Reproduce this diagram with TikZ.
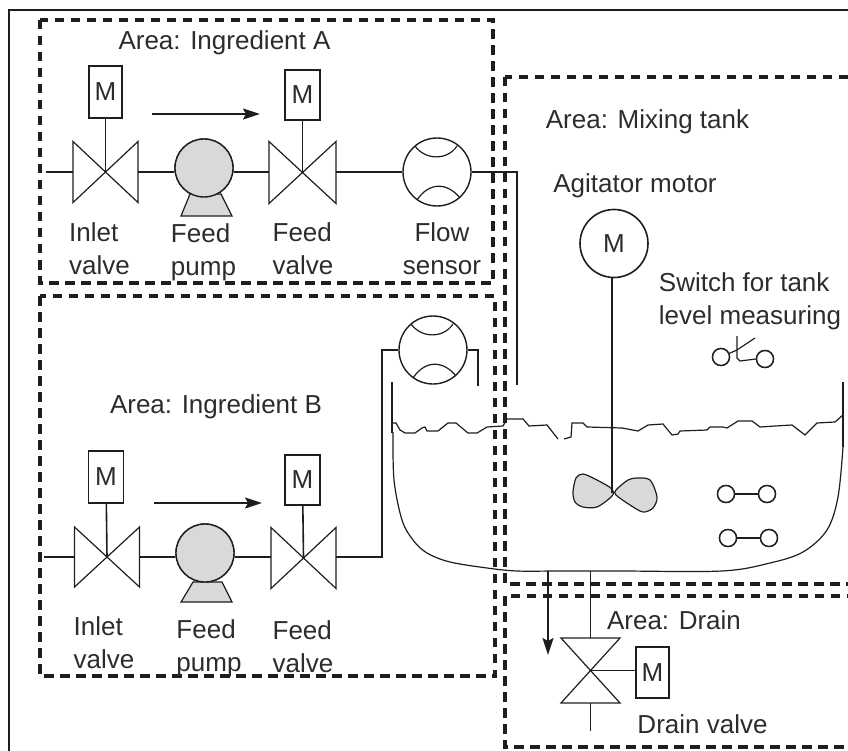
\documentclass[tikz,border=0pt]{standalone}
\usepackage{fontspec}
\setmainfont{Liberation Sans}
\usetikzlibrary{arrows.meta,positioning}
\definecolor{ink}{HTML}{1E1E1E}
\definecolor{txt}{HTML}{2C2C2C}
\definecolor{soft}{HTML}{D9D9DB}
\tikzset{
  area/.style={draw=ink,line width=3.6pt,dash pattern=on 9.5pt off 6.5pt},
  lbl/.style={align=center,inner sep=0pt,text=txt,font=\fontsize{26}{33}\selectfont},
  lbll/.style={lbl,align=left},
  pipe/.style={draw=ink,line width=1.6pt},
  thin line/.style={draw=ink,line width=1.2pt},
  ar/.style={-{Stealth[length=17pt,width=11pt,inset=3pt]},pipe},
  mbox/.style={rectangle,draw=ink,line width=1.6pt,fill=white,inner sep=0pt,text=txt,font=\fontsize{26}{30}\selectfont},
  vlv/.style={rectangle,inner sep=0pt,outer sep=0pt},
  pumpc/.style={circle,draw=ink,line width=1.4pt,fill=soft,minimum size=58pt,inner sep=0pt},
  sensc/.style={circle,draw=ink,line width=1.4pt,fill=white,minimum size=68pt,inner sep=0pt},
  contact/.style={circle,draw=ink,line width=1.4pt,fill=white,minimum size=17pt,inner sep=0pt},
}
\newcommand{\valveh}[1]{%
  \draw[thin line] (#1.north west) -- (#1.center) -- (#1.south west) -- cycle;
  \draw[thin line] (#1.north east) -- (#1.center) -- (#1.south east) -- cycle;}
\newcommand{\valvev}[1]{%
  \draw[thin line] (#1.north west) -- (#1.center) -- (#1.north east) -- cycle;
  \draw[thin line] (#1.south west) -- (#1.center) -- (#1.south east) -- cycle;}
\newcommand{\sensarcs}[1]{%
  \draw[thin line] ([shift={(-22,-26)}]#1.center) .. controls ([shift={(-12,-12)}]#1.center) and ([shift={(10,-11)}]#1.center) .. ([shift={(20,-26)}]#1.center);
  \draw[thin line] ([shift={(-20,28)}]#1.center) .. controls ([shift={(-8,10)}]#1.center) and ([shift={(10,10)}]#1.center) .. ([shift={(23,26)}]#1.center);}
\begin{document}
\begin{tikzpicture}[x=1pt,y=-1pt]
  \useasboundingbox (0,0) rectangle (848,751);
  \draw[draw=ink,line width=2pt] (848,10) -- (9,10) -- (9,751);
  \draw[area] (40,20) rectangle (493,283);
  \draw[area] (40,296) rectangle (495,676);
  \draw[area] (505,77) rectangle (849.5,584);
  \draw[area] (505,596) rectangle (849.5,747);

  % ingredient A
  \node[lbl] (tA) at (224.5,43) {Area: Ingredient A};
  \node[vlv,minimum width=65pt,minimum height=61pt] (via) at (105.5,172) {};
  \node[vlv,minimum width=67pt,minimum height=62pt] (vfa) at (302.5,172.5) {};
  \node[mbox,minimum width=33pt,minimum height=52pt] (mia) at (105.5,92) {M};
  \node[mbox,minimum width=35pt,minimum height=50pt] (mfa) at (302.5,95) {M};
  \node[pumpc] (pa) at (204,168) {};
  \node[sensc] (fsa) at (437,172) {};
  \coordinate (ina) at (46,172);
  \coordinate (pae) at (517,385);
  \coordinate (ara) at (152,114);
  \coordinate (arb) at (260,114);
  \draw[thin line,fill=soft] (190,194) -- (181,216) -- (232,216) -- (221,194) -- cycle;
  \node[pumpc] at (pa) {};
  \valveh{via} \valveh{vfa} \sensarcs{fsa}
  \draw[pipe] (ina) -- (via.west);
  \draw[pipe] (via.east) -- (pa.west |- via.east);
  \draw[pipe] (pa.east |- via.east) -- (via.east -| vfa.west);
  \draw[pipe] (vfa.east |- via.east) -- (fsa.west);
  \draw[pipe] (fsa.east) -| (pae);
  \draw[pipe] (mia) -- (via.center);
  \draw[pipe] (mfa) -- (vfa.center);
  \draw[ar] (ara) -- (arb);
  \node[lbll] (lia) at (99.5,249) {Inlet\\valve};
  \node[lbll] (lpa) at (203.5,252) {Feed\\pump};
  \node[lbll] (lfa) at (303,249) {Feed\\valve};
  \node[lbl] (lsa) at (442,249) {Flow\\sensor};

  % ingredient B
  \node[lbl] (tB) at (216,407) {Area: Ingredient B};
  \node[vlv,minimum width=65pt,minimum height=60pt] (vib) at (107,557) {};
  \node[vlv,minimum width=65pt,minimum height=61pt] (vfb) at (303.5,558) {};
  \node[mbox,minimum width=35pt,minimum height=52pt] (mib) at (106,477) {M};
  \node[mbox,minimum width=35pt,minimum height=50pt] (mfb) at (302.5,480) {M};
  \node[pumpc] (pb) at (205,553) {};
  \node[sensc] (fsb) at (433,350) {};
  \coordinate (inb) at (44,557);
  \coordinate (pbe) at (478,386);
  \coordinate (pbc) at (382,557);
  \coordinate (brA) at (154,503);
  \coordinate (brB) at (262,503);
  \draw[thin line,fill=soft] (193,582) -- (181,602) -- (232,602) -- (222,582) -- cycle;
  \node[pumpc] at (pb) {};
  \valveh{vib} \valveh{vfb} \sensarcs{fsb}
  \draw[pipe] (inb) -- (vib.west);
  \draw[pipe] (vib.east) -- (pb.west |- vib.east);
  \draw[pipe] (pb.east |- vib.east) -- (vib.east -| vfb.west);
  \draw[pipe] (vfb.east |- vib.east) -- (pbc) |- (fsb.west);
  \draw[pipe] (fsb.east) -| (pbe);
  \draw[pipe] (mib) -- (vib.center);
  \draw[pipe] (mfb) -- (vfb.center);
  \draw[ar] (brA) -- (brB);
  \node[lbll] (lib) at (104,643) {Inlet\\valve};
  \node[lbll] (lpb) at (209,648) {Feed\\pump};
  \node[lbll] (lfb) at (303,647) {Feed\\valve};

  % mixing tank
  \node[lbl] (tM) at (647.5,122) {Area: Mixing tank};
  \node[lbl] (lag) at (635,186) {Agitator motor};
  \node[lbll] (lsw) at (750,301) {Switch for tank\\level measuring};
  \node[mbox,circle,minimum size=68pt] (mag) at (614,243.5) {M};
  \coordinate (imp) at (612,493);
  \draw[thin line] (392,382) -- (392,433);
  \draw[thin line] (843,382) -- (843,447);
  \draw[thin line] plot[smooth,tension=.55] coordinates {(393,432) (394,480) (402,520) (413,540) (427,553) (450,562) (487,568) (517,571) (560,571) (620,571) (722,571) (770,563) (803,552) (827,530) (838,497) (843,447)};
  \draw[thin line] (392,423) -- (396,423) -- (400,430) -- (405,433) -- (415,433) -- (422,428) -- (425,427) -- (427,431) -- (438,431) -- (448,423) -- (456,423) -- (468,433) -- (477,433) -- (487,427) -- (503,426) -- (507,419) -- (523,419) -- (529,426) -- (547,425) -- (558,439);
  \draw[thin line] (564,439) -- (571,437) -- (572,423) -- (583,423) -- (587,427) -- (622,428) -- (638,431) -- (648,425) -- (663,424) -- (672,435) -- (678,434) -- (680,431) -- (707,430) -- (710,427) -- (723,427) -- (727,428) -- (738,421) -- (752,421) -- (760,427) -- (775,426) -- (792,425) -- (805,435) -- (817,423) -- (835,422) -- (843,415);
  \draw[thin line,fill=soft] plot[smooth cycle,tension=.5] coordinates {(612,489) (597,480) (583,474) (576,478) (573,492) (575,502) (583,507) (597,507) (612,496)};
  \draw[thin line,fill=soft] plot[smooth cycle,tension=.5] coordinates {(616,490) (628,480) (637,478) (650,480) (657,497) (653,508) (643,512) (630,505) (616,495)};
  \draw[pipe] (mag.south -| imp) -- (imp);

  % level switches
  \node[contact] (sw1) at (721,357) {};
  \node[contact] (sw2) at (765,359) {};
  \node[contact] (lo1) at (726,494) {};
  \node[contact] (lo2) at (767,494) {};
  \node[contact] (lp1) at (728,538) {};
  \node[contact] (lp2) at (769,538) {};
  \coordinate (swt) at (737,336);
  \coordinate (swm) at (737,350);
  \coordinate (swa) at (755,338);
  \coordinate (swb) at (740,361);
  \draw[thin line] (sw1) -- (swm);
  \draw[thin line] (swt) -- ++(0,22) -- (swb) -- (sw2.west);
  \draw[thin line] (swm) -- (swa);
  \draw[thin line] (lo1) -- (lo2);
  \draw[thin line] (lp1) -- (lp2);
  \node[contact] at (sw1) {};
  \node[contact] at (sw2) {};
  \node[contact] at (lo1) {};
  \node[contact] at (lo2) {};
  \node[contact] at (lp1) {};
  \node[contact] at (lp2) {};

  % drain
  \node[lbl] (tD) at (674,620) {Area: Drain};
  \node[lbl] (ldv) at (702.5,724) {Drain valve};
  \node[vlv,minimum width=59pt,minimum height=65pt] (vdr) at (590.5,670.5) {};
  \node[mbox,minimum width=33pt,minimum height=51pt] (mdr) at (652.5,672.5) {M};
  \coordinate (dta) at (548,571);
  \coordinate (dtb) at (548,655);
  \coordinate (dtc) at (590.5,571);
  \coordinate (dtd) at (590.5,731);
  \valvev{vdr}
  \draw[ar] (dta) -- (dtb);
  \draw[pipe] (dtc) -- (vdr.north);
  \draw[pipe] (vdr.south) -- (dtd);
  \draw[pipe] (vdr.center) -- (vdr.center -| mdr.west);
\end{tikzpicture}
\end{document}
